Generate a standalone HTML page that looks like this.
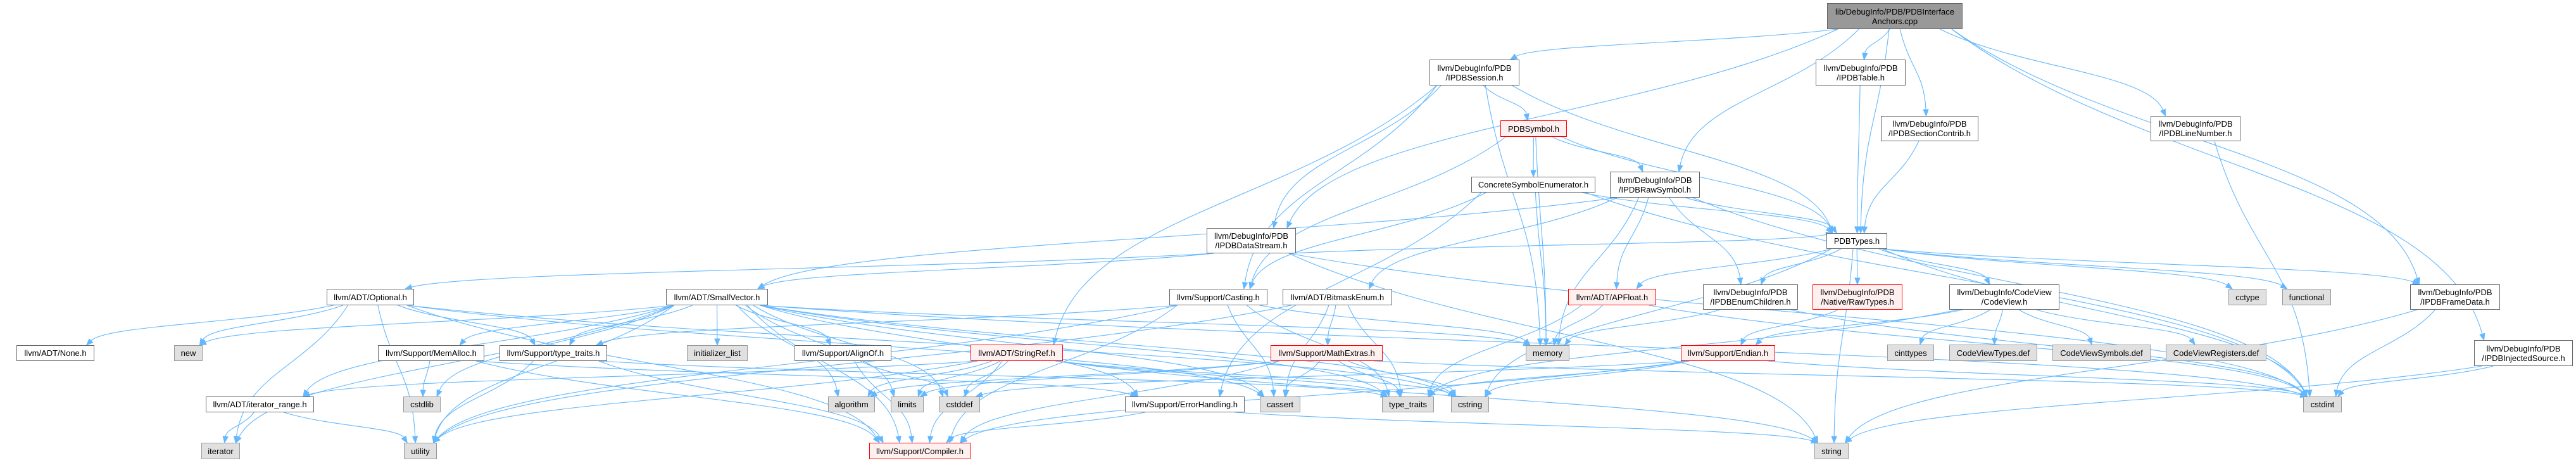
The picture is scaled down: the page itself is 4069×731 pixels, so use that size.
<!DOCTYPE html>
<html><head><meta charset="utf-8">
<style>
html,body{margin:0;padding:0;background:#fff;}
#c{position:relative;width:4069px;height:731px;overflow:hidden;background:#fff;}
svg{position:absolute;left:0;top:0;}
.n{position:absolute;box-sizing:border-box;border:1.3px solid #666;background:#fff;font-family:"Liberation Sans",sans-serif;font-size:13px;line-height:15px;color:#000;display:flex;align-items:center;justify-content:center;text-align:center;white-space:nowrap;}
.g{background:#e0e0e0;border-color:#999;}
.r{background:#fff0f0;border-color:#f00;}
.t{background:#999;border-color:#666;}
</style></head><body>
<div id="c">
<svg id="s" width="4069" height="731"></svg>
<div class="n t" id="cpp" style="left:2886px;top:5px;width:214px;height:41px">lib/DebugInfo/PDB/PDBInterface<br>Anchors.cpp</div>
<div class="n" id="sess" style="left:2258px;top:94px;width:142px;height:41px">llvm/DebugInfo/PDB<br>/IPDBSession.h</div>
<div class="n" id="tab" style="left:2868px;top:94px;width:142px;height:41px">llvm/DebugInfo/PDB<br>/IPDBTable.h</div>
<div class="n" id="sec" style="left:2971px;top:183px;width:154px;height:40px">llvm/DebugInfo/PDB<br>/IPDBSectionContrib.h</div>
<div class="n" id="line" style="left:3397px;top:183px;width:142px;height:40px">llvm/DebugInfo/PDB<br>/IPDBLineNumber.h</div>
<div class="n r" id="sym" style="left:2370px;top:190px;width:105px;height:26px">PDBSymbol.h</div>
<div class="n" id="conc" style="left:2324px;top:279px;width:196px;height:25px">ConcreteSymbolEnumerator.h</div>
<div class="n" id="raw" style="left:2543px;top:271px;width:142px;height:41px">llvm/DebugInfo/PDB<br>/IPDBRawSymbol.h</div>
<div class="n" id="ds" style="left:1906px;top:360px;width:141px;height:40px">llvm/DebugInfo/PDB<br>/IPDBDataStream.h</div>
<div class="n" id="types" style="left:2885px;top:368px;width:96px;height:25px">PDBTypes.h</div>
<div class="n" id="opt" style="left:516px;top:456px;width:138px;height:26px">llvm/ADT/Optional.h</div>
<div class="n" id="sv" style="left:1052px;top:456px;width:161px;height:26px">llvm/ADT/SmallVector.h</div>
<div class="n" id="cast" style="left:1847px;top:456px;width:155px;height:26px">llvm/Support/Casting.h</div>
<div class="n" id="bm" style="left:2026px;top:456px;width:173px;height:26px">llvm/ADT/BitmaskEnum.h</div>
<div class="n r" id="apf" style="left:2477px;top:456px;width:139px;height:26px">llvm/ADT/APFloat.h</div>
<div class="n" id="enc" style="left:2690px;top:449px;width:150px;height:40px">llvm/DebugInfo/PDB<br>/IPDBEnumChildren.h</div>
<div class="n r" id="rt" style="left:2863px;top:449px;width:142px;height:40px">llvm/DebugInfo/PDB<br>/Native/RawTypes.h</div>
<div class="n" id="cv" style="left:3079px;top:449px;width:174px;height:40px">llvm/DebugInfo/CodeView<br>/CodeView.h</div>
<div class="n g" id="cctype" style="left:3520px;top:456px;width:60px;height:26px">cctype</div>
<div class="n g" id="func" style="left:3605px;top:456px;width:77px;height:26px">functional</div>
<div class="n" id="fd" style="left:3807px;top:449px;width:142px;height:40px">llvm/DebugInfo/PDB<br>/IPDBFrameData.h</div>
<div class="n" id="inj" style="left:3908px;top:537px;width:156px;height:41px">llvm/DebugInfo/PDB<br>/IPDBInjectedSource.h</div>
<div class="n" id="none" style="left:26px;top:545px;width:123px;height:25px">llvm/ADT/None.h</div>
<div class="n g" id="new" style="left:275px;top:545px;width:45px;height:25px">new</div>
<div class="n" id="mem" style="left:597px;top:545px;width:168px;height:25px">llvm/Support/MemAlloc.h</div>
<div class="n" id="tth" style="left:789px;top:545px;width:170px;height:25px">llvm/Support/type_traits.h</div>
<div class="n g" id="il" style="left:1085px;top:545px;width:96px;height:25px">initializer_list</div>
<div class="n" id="al" style="left:1255px;top:545px;width:153px;height:25px">llvm/Support/AlignOf.h</div>
<div class="n r" id="sr" style="left:1533px;top:544px;width:146px;height:26px">llvm/ADT/StringRef.h</div>
<div class="n r" id="me" style="left:2007px;top:545px;width:177px;height:25px">llvm/Support/MathExtras.h</div>
<div class="n g" id="memory" style="left:2410px;top:545px;width:69px;height:25px">memory</div>
<div class="n r" id="end" style="left:2655px;top:545px;width:149px;height:25px">llvm/Support/Endian.h</div>
<div class="n g" id="cint" style="left:2981px;top:544px;width:74px;height:26px">cinttypes</div>
<div class="n g" id="cvt" style="left:3079px;top:544px;width:139px;height:26px">CodeViewTypes.def</div>
<div class="n g" id="cvs" style="left:3242px;top:544px;width:155px;height:26px">CodeViewSymbols.def</div>
<div class="n g" id="cvr" style="left:3421px;top:544px;width:159px;height:26px">CodeViewRegisters.def</div>
<div class="n" id="ir" style="left:325px;top:626px;width:171px;height:25px">llvm/ADT/iterator_range.h</div>
<div class="n g" id="cstdlib" style="left:637px;top:626px;width:59px;height:25px">cstdlib</div>
<div class="n g" id="algo" style="left:1308px;top:626px;width:74px;height:25px">algorithm</div>
<div class="n g" id="lim" style="left:1407px;top:626px;width:52px;height:25px">limits</div>
<div class="n g" id="cstddef" style="left:1483px;top:626px;width:65px;height:25px">cstddef</div>
<div class="n" id="eh" style="left:1777px;top:626px;width:189px;height:25px">llvm/Support/ErrorHandling.h</div>
<div class="n g" id="cassert" style="left:1990px;top:626px;width:64px;height:25px">cassert</div>
<div class="n g" id="tt" style="left:2183px;top:626px;width:82px;height:25px">type_traits</div>
<div class="n g" id="cstring" style="left:2292px;top:626px;width:60px;height:25px">cstring</div>
<div class="n g" id="cstdint" style="left:3638px;top:626px;width:61px;height:25px">cstdint</div>
<div class="n g" id="iter" style="left:318px;top:699px;width:61px;height:26px">iterator</div>
<div class="n g" id="util" style="left:638px;top:699px;width:52px;height:26px">utility</div>
<div class="n r" id="comp" style="left:1373px;top:699px;width:160px;height:26px">llvm/Support/Compiler.h</div>
<div class="n g" id="str" style="left:2866px;top:699px;width:54px;height:26px">string</div>
</div>
<script>
var E={
cpp:["sess","tab","sec","line","raw","ds","types","fd","inj"],
sess:["sym","types","cast","memory","sr","ds"],
sym:["conc","raw","cast","types","memory"],
conc:["types","memory","eh","cstdint","cast"],
raw:["types","memory","sv","enc","cstdint","bm","apf"],
ds:["opt","sv","types","str","cstdint"],
types:["enc","rt","cv","apf","cctype","func","fd","cstdint","str","cstring"],
tab:["types"],sec:["types"],line:["cstdint"],
enc:["memory","cstdint"],rt:["end"],
cv:["cint","cvt","cvs","cvr","end","tt"],
fd:["cstdint","str"],inj:["cstdint","str"],
opt:["none","new","util","tth","comp","cassert","cstring","iter"],
sv:["mem","tth","il","al","ir","cstdlib","util","iter","algo","lim","cstddef","cassert","cstring","cstdint","memory","comp","eh","new","tt"],
mem:["cstdlib","comp","eh"],
tth:["util","tt","comp"],
al:["comp","cstddef"],
sr:["ir","lim","cstddef","algo","cstring","str","util","comp","tt"],
cast:["comp","cassert","memory","tt","tth","util"],
bm:["me","cassert","tt","util"],
me:["cassert","tt","comp","cstdint","lim","cstring","algo"],
apf:["memory","tt","cstdint"],
end:["comp","cstring","cstdint","tt","cstddef"],
ir:["iter","util"],
eh:["comp","str"]
};
function B(id){var e=document.getElementById(id);return {x:e.offsetLeft,y:e.offsetTop,w:e.offsetWidth,h:e.offsetHeight};}
var s=document.getElementById('s'),out='';
var col='#63b8ff';
function cl(v,a){return Math.max(-a,Math.min(a,v));}
for(var k in E){var a=B(k);E[k].forEach(function(t){var b=B(t);
var acx=a.x+a.w/2,bcx=b.x+b.w/2;
var x1=acx+cl((bcx-acx)*0.15,a.w*0.42),y1=a.y+a.h;
var x2=bcx+cl((acx-bcx)*0.1,b.w*0.4),y2=b.y;
var dy=y2-y1;
var c1x=x1+(x2-x1)*0.35,c1y=y1+dy*0.45,c2x=x2-(x2-x1)*0.08,c2y=y2-dy*0.5;
var dx=x2-c2x,ddy=y2-c2y,L=Math.sqrt(dx*dx+ddy*ddy)||1;dx/=L;ddy/=L;
var ex=x2-dx*10,ey=y2-ddy*10;
out+='<path d="M'+x1+','+y1+' C'+c1x+','+c1y+' '+c2x+','+c2y+' '+ex+','+ey+'" fill="none" stroke="'+col+'" stroke-width="1.1"/>';
var px=-ddy,py=dx;
out+='<polygon points="'+x2+','+y2+' '+(ex+px*4)+','+(ey+py*4)+' '+(ex-px*4)+','+(ey-py*4)+'" fill="'+col+'" stroke="'+col+'"/>';
});}
s.innerHTML=out;
</script>
</body></html>
